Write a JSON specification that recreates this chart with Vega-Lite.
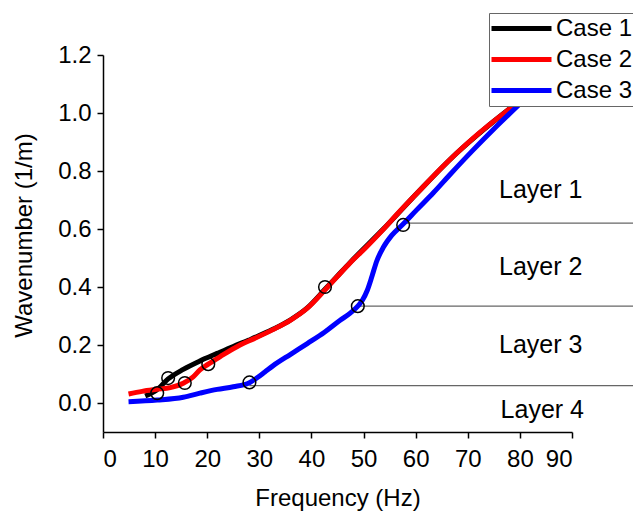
{
  "$schema": "https://vega.github.io/schema/vega-lite/v6.json",
  "width": 469,
  "height": 377,
  "autosize": {"type": "none"},
  "padding": {"left": 103, "top": 55, "right": 61, "bottom": 80},
  "background": "white",
  "config": {
    "view": {"stroke": null},
    "font": "Liberation Sans",
    "axis": {
      "domainColor": "black",
      "domainWidth": 1.5,
      "tickColor": "black",
      "tickWidth": 1.5,
      "labelColor": "black",
      "labelFont": "Liberation Sans",
      "labelFontSize": 24,
      "titleFont": "Liberation Sans",
      "titleFontSize": 24,
      "titleFontWeight": "normal",
      "titleColor": "black",
      "grid": false
    }
  },
  "datasets": {
    "curves": [
      {"case": "Case 1", "f": 8.1, "k": 0.024},
      {"case": "Case 1", "f": 10.3, "k": 0.045},
      {"case": "Case 1", "f": 12.5, "k": 0.083},
      {"case": "Case 1", "f": 15.4, "k": 0.116},
      {"case": "Case 1", "f": 18.6, "k": 0.145},
      {"case": "Case 1", "f": 21.9, "k": 0.171},
      {"case": "Case 1", "f": 25, "k": 0.195},
      {"case": "Case 1", "f": 28, "k": 0.217},
      {"case": "Case 1", "f": 32.6, "k": 0.254},
      {"case": "Case 1", "f": 36, "k": 0.287},
      {"case": "Case 1", "f": 39.2, "k": 0.328},
      {"case": "Case 1", "f": 42.6, "k": 0.392},
      {"case": "Case 1", "f": 45, "k": 0.438},
      {"case": "Case 1", "f": 47.4, "k": 0.484},
      {"case": "Case 1", "f": 53.7, "k": 0.598},
      {"case": "Case 1", "f": 60.3, "k": 0.724},
      {"case": "Case 1", "f": 67.9, "k": 0.862},
      {"case": "Case 1", "f": 73, "k": 0.942},
      {"case": "Case 1", "f": 79.5, "k": 1.035},
      {"case": "Case 2", "f": 4.9, "k": 0.031},
      {"case": "Case 2", "f": 7.5, "k": 0.04},
      {"case": "Case 2", "f": 10.3, "k": 0.047},
      {"case": "Case 2", "f": 12.9, "k": 0.053},
      {"case": "Case 2", "f": 15.4, "k": 0.068},
      {"case": "Case 2", "f": 17.3, "k": 0.09},
      {"case": "Case 2", "f": 18.6, "k": 0.114},
      {"case": "Case 2", "f": 20.2, "k": 0.134},
      {"case": "Case 2", "f": 22.5, "k": 0.16},
      {"case": "Case 2", "f": 26.3, "k": 0.2},
      {"case": "Case 2", "f": 29, "k": 0.222},
      {"case": "Case 2", "f": 32.6, "k": 0.253},
      {"case": "Case 2", "f": 36, "k": 0.286},
      {"case": "Case 2", "f": 39.2, "k": 0.327},
      {"case": "Case 2", "f": 42.6, "k": 0.39},
      {"case": "Case 2", "f": 45, "k": 0.437},
      {"case": "Case 2", "f": 47.4, "k": 0.483},
      {"case": "Case 2", "f": 50.5, "k": 0.537},
      {"case": "Case 2", "f": 53.7, "k": 0.597},
      {"case": "Case 2", "f": 57, "k": 0.662},
      {"case": "Case 2", "f": 60.3, "k": 0.724},
      {"case": "Case 2", "f": 64.7, "k": 0.806},
      {"case": "Case 2", "f": 67.9, "k": 0.862},
      {"case": "Case 2", "f": 72, "k": 0.928},
      {"case": "Case 2", "f": 77.2, "k": 1.003},
      {"case": "Case 2", "f": 79.5, "k": 1.035},
      {"case": "Case 3", "f": 4.9, "k": 0.004},
      {"case": "Case 3", "f": 10.4, "k": 0.01},
      {"case": "Case 3", "f": 15.4, "k": 0.02},
      {"case": "Case 3", "f": 18.6, "k": 0.034},
      {"case": "Case 3", "f": 21.9, "k": 0.047},
      {"case": "Case 3", "f": 25, "k": 0.056},
      {"case": "Case 3", "f": 28.1, "k": 0.07},
      {"case": "Case 3", "f": 29.5, "k": 0.086},
      {"case": "Case 3", "f": 31, "k": 0.106},
      {"case": "Case 3", "f": 32.6, "k": 0.128},
      {"case": "Case 3", "f": 36, "k": 0.168},
      {"case": "Case 3", "f": 39.2, "k": 0.205},
      {"case": "Case 3", "f": 42.5, "k": 0.244},
      {"case": "Case 3", "f": 45.5, "k": 0.285},
      {"case": "Case 3", "f": 47.5, "k": 0.311},
      {"case": "Case 3", "f": 48.9, "k": 0.334},
      {"case": "Case 3", "f": 49.8, "k": 0.355},
      {"case": "Case 3", "f": 50.7, "k": 0.388},
      {"case": "Case 3", "f": 51.6, "k": 0.436},
      {"case": "Case 3", "f": 52.5, "k": 0.488},
      {"case": "Case 3", "f": 53.8, "k": 0.537},
      {"case": "Case 3", "f": 55.4, "k": 0.578},
      {"case": "Case 3", "f": 57.6, "k": 0.617},
      {"case": "Case 3", "f": 60.2, "k": 0.666},
      {"case": "Case 3", "f": 63.4, "k": 0.725},
      {"case": "Case 3", "f": 66.6, "k": 0.788},
      {"case": "Case 3", "f": 71, "k": 0.872},
      {"case": "Case 3", "f": 75, "k": 0.945},
      {"case": "Case 3", "f": 80.5, "k": 1.04}
    ],
    "markers": [
      {"f": 10.4, "k": 0.034},
      {"f": 12.5, "k": 0.086},
      {"f": 15.7, "k": 0.069},
      {"f": 20.2, "k": 0.134},
      {"f": 28.1, "k": 0.071},
      {"f": 42.6, "k": 0.4},
      {"f": 48.9, "k": 0.334},
      {"f": 57.6, "k": 0.614}
    ],
    "bounds": [
      {"f": 57.6, "f2": 102, "k": 0.62},
      {"f": 48.9, "f2": 102, "k": 0.334},
      {"f": 28.1, "f2": 102, "k": 0.06}
    ],
    "labels": [
      {"f": 76.0, "k": 0.707, "text": "Layer 1"},
      {"f": 76.0, "k": 0.441, "text": "Layer 2"},
      {"f": 76.0, "k": 0.172, "text": "Layer 3"},
      {"f": 76.3, "k": -0.052, "text": "Layer 4"}
    ]
  },
  "layer": [
    {
      "data": {"name": "bounds"},
      "mark": {"type": "rule", "color": "#666666", "strokeWidth": 1.2},
      "encoding": {
        "x": {"field": "f", "type": "quantitative", "scale": {"domain": [0, 90], "nice": false, "zero": false}},
        "x2": {"field": "f2"},
        "y": {"field": "k", "type": "quantitative", "scale": {"domain": [-0.1, 1.2], "nice": false, "zero": false}}
      }
    },
    {
      "data": {"name": "curves"},
      "mark": {"type": "line", "strokeWidth": 5, "interpolate": "monotone"},
      "encoding": {
        "x": {
          "field": "f", "type": "quantitative",
          "scale": {"domain": [0, 90], "nice": false, "zero": false},
          "axis": {
            "title": "Frequency (Hz)",
            "values": [0, 5, 10, 15, 20, 25, 30, 35, 40, 45, 50, 55, 60, 65, 70, 75, 80, 85, 90],
            "labelExpr": "datum.value % 10 === 0 ? datum.label : ''",
            "tickSize": {"condition": {"test": "datum.value % 10 === 0", "value": 6}, "value": 3},
            "labelPadding": 9,
            "titleBaseline": "alphabetic",
            "titleY": 73
          }
        },
        "y": {
          "field": "k", "type": "quantitative",
          "scale": {"domain": [-0.1, 1.2], "nice": false, "zero": false},
          "axis": {
            "title": "Wavenumber (1/m)",
            "values": [0, 0.1, 0.2, 0.3, 0.4, 0.5, 0.6, 0.7, 0.8, 0.9, 1.0, 1.1, 1.2],
            "format": ".1f",
            "labelExpr": "round(datum.value * 10) % 2 === 0 ? datum.label : ''",
            "tickSize": {"condition": {"test": "round(datum.value * 10) % 2 === 0", "value": 6}, "value": 3},
            "labelPadding": 6,
            "titleBaseline": "alphabetic",
            "titleX": -72,
            "titleY": 180
          }
        },
        "color": {
          "field": "case", "type": "nominal",
          "scale": {"domain": ["Case 1", "Case 2", "Case 3"], "range": ["#000000", "#ff0000", "#0000ff"]},
          "legend": {
            "title": null,
            "orient": "none",
            "legendX": 386,
            "legendY": -42,
            "fillColor": "white",
            "strokeColor": "#666666",
            "padding": 3,
            "symbolType": "M-1,0H5",
            "symbolSize": 400,
            "symbolStrokeWidth": 5,
            "symbolOffset": -3,
            "labelOffset": 42,
            "labelFontSize": 24,
            "labelFont": "Liberation Sans",
            "labelColor": "black",
            "rowPadding": 6,
            "labelLimit": 200
          }
        }
      }
    },
    {
      "data": {"name": "markers"},
      "mark": {"type": "point", "shape": "circle", "filled": false, "stroke": "black", "strokeWidth": 1.5, "size": 160, "opacity": 1},
      "encoding": {
        "x": {"field": "f", "type": "quantitative"},
        "y": {"field": "k", "type": "quantitative"}
      }
    },
    {
      "data": {"name": "labels"},
      "mark": {"type": "text", "align": "left", "baseline": "alphabetic", "fontSize": 25, "font": "Liberation Sans", "color": "black"},
      "encoding": {
        "x": {"field": "f", "type": "quantitative"},
        "y": {"field": "k", "type": "quantitative"},
        "text": {"field": "text"}
      }
    }
  ]
}
